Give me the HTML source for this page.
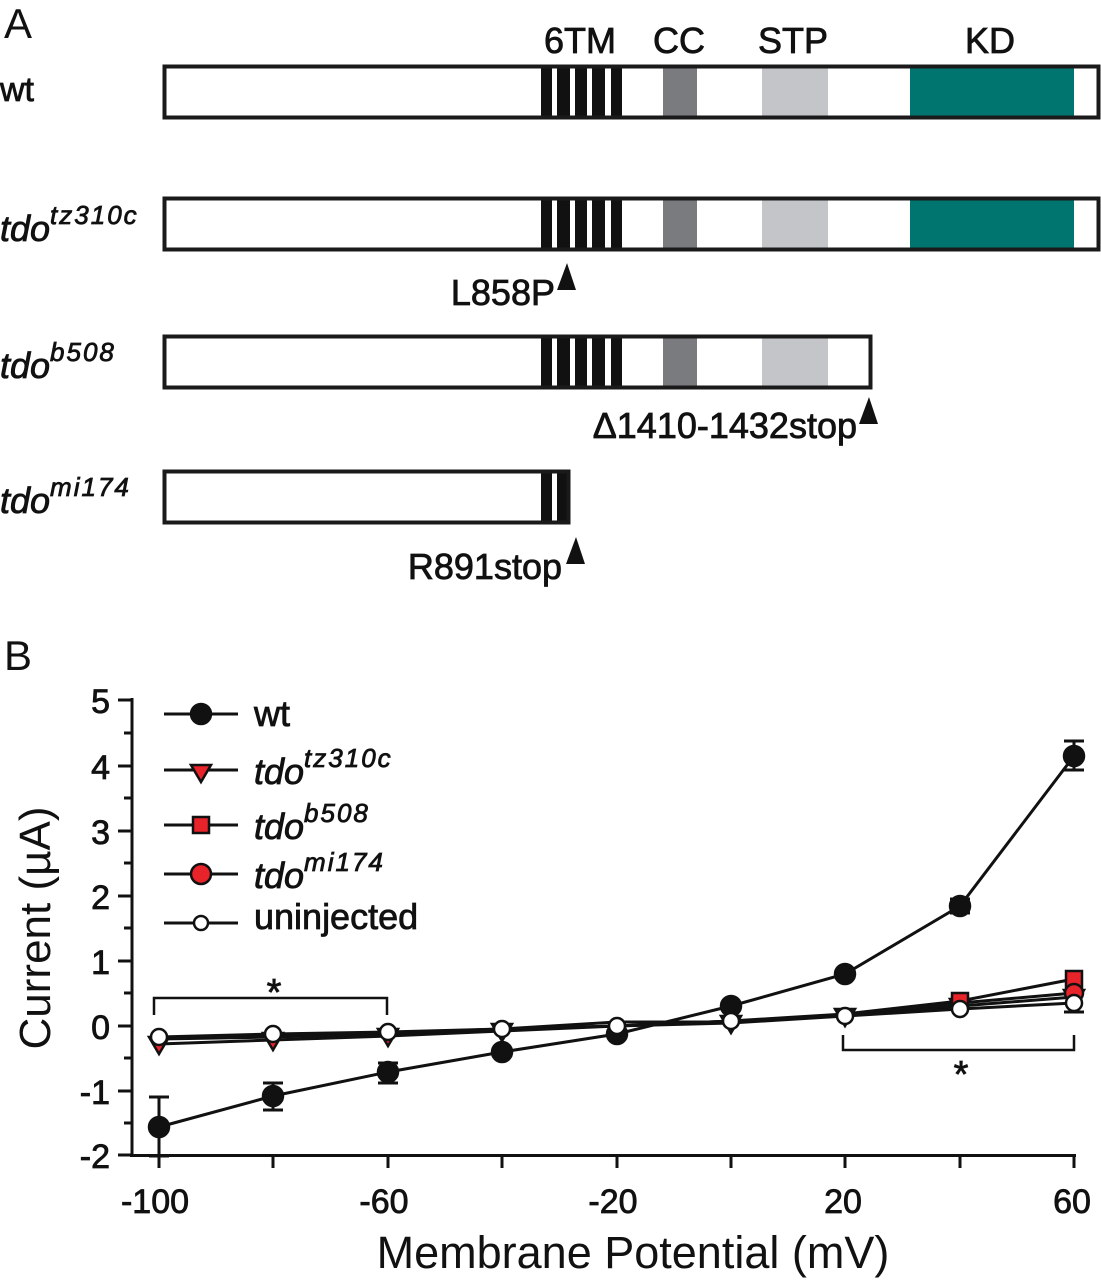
<!DOCTYPE html>
<html><head><meta charset="utf-8"><style>
html,body{margin:0;padding:0;background:#fff}
svg{display:block}
text{font-family:"Liberation Sans",Arial,sans-serif;fill:#111}
.b{stroke:#111;stroke-width:0.8}
</style></head><body>
<svg width="1101" height="1280" viewBox="0 0 1101 1280" xmlns="http://www.w3.org/2000/svg">
<text x="4" y="38" font-size="42">A</text>
<g font-size="36" class="b">
<text x="544" y="53">6TM</text><text x="653" y="53">CC</text><text x="758" y="53">STP</text><text x="965" y="53">KD</text>
</g>
<g>
<rect x="663" y="67" width="34" height="50" fill="#7a7b7e"/>
<rect x="762" y="67" width="66" height="50" fill="#c4c5c9"/>
<rect x="910" y="67" width="164" height="50" fill="#007570"/>
<rect x="541" y="67" width="11" height="50" fill="#111"/><rect x="557" y="67" width="13" height="50" fill="#111"/><rect x="575" y="67" width="12" height="50" fill="#111"/><rect x="592" y="67" width="13" height="50" fill="#111"/><rect x="611" y="67" width="11" height="50" fill="#111"/>
<rect x="164.5" y="66.5" width="934" height="51" fill="none" stroke="#1a1a1a" stroke-width="4"/>
</g>
<text x="0" y="101" font-size="34" class="b">wt</text>
<g>
<rect x="663" y="199" width="34" height="50" fill="#7a7b7e"/>
<rect x="762" y="199" width="66" height="50" fill="#c4c5c9"/>
<rect x="910" y="199" width="164" height="50" fill="#007570"/>
<rect x="541" y="199" width="11" height="50" fill="#111"/><rect x="557" y="199" width="13" height="50" fill="#111"/><rect x="575" y="199" width="12" height="50" fill="#111"/><rect x="592" y="199" width="13" height="50" fill="#111"/><rect x="611" y="199" width="11" height="50" fill="#111"/>
<rect x="164.5" y="198.5" width="934" height="51" fill="none" stroke="#1a1a1a" stroke-width="4"/>
</g>
<text x="0" y="241" font-size="36" font-style="italic" class="b">tdo<tspan font-size="26" dy="-17" letter-spacing="2">tz310c</tspan></text>
<text x="555" y="305" font-size="36" class="b" text-anchor="end">L858P</text>
<polygon points="557,290 576,290 567,263" fill="#111"/>
<g>
<rect x="663" y="337" width="34" height="50" fill="#7a7b7e"/>
<rect x="762" y="337" width="66" height="50" fill="#c4c5c9"/>
<rect x="541" y="337" width="11" height="50" fill="#111"/><rect x="557" y="337" width="13" height="50" fill="#111"/><rect x="575" y="337" width="12" height="50" fill="#111"/><rect x="592" y="337" width="13" height="50" fill="#111"/><rect x="611" y="337" width="11" height="50" fill="#111"/>
<rect x="164.5" y="336.5" width="706" height="51" fill="none" stroke="#1a1a1a" stroke-width="4"/>
</g>
<text x="0" y="378" font-size="36" font-style="italic" class="b">tdo<tspan font-size="26" dy="-17" letter-spacing="2">b508</tspan></text>
<text x="857" y="438" font-size="36" class="b" text-anchor="end">Δ1410-1432stop</text>
<polygon points="859,424 878,424 869,397" fill="#111"/>
<g>
<rect x="541" y="472" width="11" height="50" fill="#111"/><rect x="557" y="472" width="13" height="50" fill="#111"/>
<rect x="164.5" y="471.5" width="404" height="51" fill="none" stroke="#1a1a1a" stroke-width="4"/>
</g>
<text x="0" y="513" font-size="36" font-style="italic" class="b">tdo<tspan font-size="26" dy="-17" letter-spacing="2">mi174</tspan></text>
<text x="562" y="579" font-size="36" class="b" text-anchor="end">R891stop</text>
<polygon points="566,564 585,564 576,537" fill="#111"/>

<text x="4" y="670" font-size="42">B</text>
<g stroke="#111" stroke-width="3" fill="none">
<line x1="132" y1="698" x2="132" y2="1157"/>
<line x1="130" y1="1155.5" x2="1076" y2="1155.5"/>
<path d="M118 700H132M118 766H132M118 831H132M118 896H132M118 961H132M118 1026H132M118 1091H132M118 1155H132"/>
<path d="M124 733H132M124 798H132M124 863H132M124 928H132M124 993H132M124 1058H132M124 1123H132"/>
<path d="M159 1155V1168M273 1155V1168M388 1155V1168M502 1155V1168M617 1155V1168M731 1155V1168M845 1155V1168M960 1155V1168M1074 1155V1168"/>
</g>
<g font-size="34" text-anchor="end" class="b">
<text x="110" y="713">5</text><text x="110" y="779">4</text><text x="110" y="844">3</text><text x="110" y="909">2</text><text x="110" y="974">1</text><text x="110" y="1039">0</text><text x="110" y="1104">-1</text><text x="110" y="1168">-2</text>
</g>
<g font-size="34" text-anchor="middle" class="b">
<text x="155" y="1213">-100</text><text x="384" y="1213">-60</text><text x="613" y="1213">-20</text><text x="843" y="1213">20</text><text x="1072" y="1213">60</text>
</g>
<text x="633" y="1268" font-size="45" text-anchor="middle">Membrane Potential (mV)</text>
<text transform="translate(50,928) rotate(-90)" font-size="44" text-anchor="middle">Current (µA)</text>

<g stroke="#111" stroke-width="2.5" fill="none">
<path d="M154 1015V998H387V1015"/>
<path d="M843 1035V1050H1074V1035"/>
</g>
<text x="274" y="1005" font-size="38" text-anchor="middle" class="b">*</text>
<text x="961" y="1087" font-size="38" text-anchor="middle" class="b">*</text>

<g stroke="#111" stroke-width="3" fill="none">
<polyline points="159,1044 273,1040 388,1036 502,1031 617,1026 731,1023 845,1016 960,1006 1074,997"/>
<polyline points="159,1039 273,1037 388,1034 502,1029 617,1026 731,1021 845,1014 960,1001 1074,979"/>
<polyline points="159,1038 273,1036 388,1033 502,1029 617,1022 731,1022 845,1015 960,1003 1074,993"/>
<polyline points="159,1037 273,1034 388,1032 502,1029 617,1026 731,1021 845,1016 960,1009 1074,1003"/>
<polyline points="159,1127 273,1096 388,1072 502,1052 617,1034 731,1006 845,974 960,906 1074,756"/>
<path d="M159 1097V1156M149 1097H169M149 1156H169M273 1083V1110M263 1083H283M263 1110H283M388 1063V1083M378 1063H398M378 1083H398M960 899V913M950 899H970M950 913H970M1074 741V770M1064 741H1084M1064 770H1084M1074 985V1012M1064 1012H1084"/>
</g>
<g stroke="#111" stroke-width="2.5">
<g fill="#e8232a">
<polygon points="149,1037 169,1037 159,1054"/><polygon points="263,1033 283,1033 273,1050"/><polygon points="378,1029 398,1029 388,1046"/><polygon points="492,1024 512,1024 502,1041"/><polygon points="721,1016 741,1016 731,1033"/><polygon points="835,1009 855,1009 845,1026"/><polygon points="950,999 970,999 960,1016"/><polygon points="1064,990 1084,990 1074,1007"/>
<rect x="1066" y="971" width="16" height="16"/><rect x="952" y="993" width="16" height="16"/>
<circle cx="1074" cy="993" r="9"/>
</g>
<g fill="#111">
<circle cx="159" cy="1127" r="10"/><circle cx="273" cy="1096" r="10"/><circle cx="388" cy="1072" r="10"/><circle cx="502" cy="1052" r="10"/><circle cx="617" cy="1034" r="10"/><circle cx="731" cy="1006" r="10"/><circle cx="845" cy="974" r="10"/><circle cx="960" cy="906" r="10"/><circle cx="1074" cy="756" r="10"/>
</g>
<g fill="#fff">
<circle cx="159" cy="1037" r="8"/><circle cx="273" cy="1034" r="8"/><circle cx="388" cy="1032" r="8"/><circle cx="502" cy="1029" r="8"/><circle cx="617" cy="1026" r="8"/><circle cx="731" cy="1021" r="8"/><circle cx="845" cy="1016" r="8"/><circle cx="960" cy="1009" r="8"/><circle cx="1074" cy="1003" r="8"/>
</g>
</g>

<g stroke="#111" stroke-width="3">
<line x1="164" y1="714" x2="238" y2="714"/><line x1="164" y1="770" x2="238" y2="770"/><line x1="164" y1="825" x2="238" y2="825"/><line x1="164" y1="874" x2="238" y2="874"/><line x1="164" y1="923" x2="238" y2="923"/>
</g>
<g stroke="#111" stroke-width="2.5">
<circle cx="201" cy="714" r="10" fill="#111"/>
<polygon points="191,765 211,765 201,782" fill="#e8232a"/>
<rect x="193" y="817" width="16" height="16" fill="#e8232a"/>
<circle cx="201" cy="874" r="10" fill="#e8232a"/>
<circle cx="201" cy="923" r="7" fill="#fff"/>
</g>
<g font-size="36" class="b">
<text x="254" y="726">wt</text>
<text x="254" y="784" font-style="italic">tdo<tspan font-size="26" dy="-17" letter-spacing="2">tz310c</tspan></text>
<text x="254" y="839" font-style="italic">tdo<tspan font-size="26" dy="-17" letter-spacing="2">b508</tspan></text>
<text x="254" y="888" font-style="italic">tdo<tspan font-size="26" dy="-17" letter-spacing="2">mi174</tspan></text>
<text x="254" y="929">uninjected</text>
</g>
</svg>
</body></html>
